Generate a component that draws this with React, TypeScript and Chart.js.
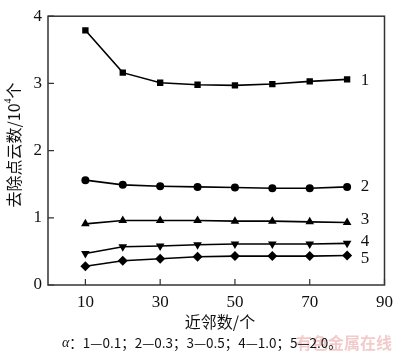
import React, { useEffect, useRef } from "react";
import { Chart, registerables } from "chart.js";
Chart.register(...registerables);

const neighbors = [10, 20, 30, 40, 50, 60, 70, 80];
const s1 = [3.79, 3.16, 3.01, 2.98, 2.97, 2.99, 3.03, 3.06];
const s2 = [1.56, 1.49, 1.47, 1.46, 1.45, 1.44, 1.44, 1.46];
const s3 = [0.91, 0.96, 0.96, 0.96, 0.95, 0.95, 0.94, 0.93];
const s4 = [0.47, 0.57, 0.58, 0.6, 0.61, 0.61, 0.61, 0.62];
const s5 = [0.28, 0.36, 0.39, 0.42, 0.43, 0.43, 0.43, 0.44];
const seriesNames = ["1", "2", "3", "4", "5"];
const seriesLabelY = [3.04, 1.46, 0.97, 0.64, 0.4];
const seriesLabelX = 84.8;
const xTicks = [10, 30, 50, 70, 90];
const yTicks = [0, 1, 2, 3, 4];
const yTitleMain = "去除点云数/10";
const yTitleSup = "4";
const yTitleEnd = "个";
const xTitle = "近邻数/个";
const captionAlpha = "α";
const captionRest = "：1—0.1；2—0.3；3—0.5；4—1.0；5—2.0。";
const watermark = "有色金属在线";

const SERIF = "'Liberation Serif', 'Times New Roman', 'Noto Sans CJK SC', serif";
const CJK = "'Noto Sans CJK SC', 'Liberation Serif', serif";

const decorPlugin = {
  id: "decor",
  afterDraw(chart: any) {
    const ctx = chart.ctx;
    const { left, right, top, bottom } = chart.chartArea;
    const xs = chart.scales.x;
    const ys = chart.scales.y;
    ctx.save();
    ctx.strokeStyle = "#333";
    ctx.lineWidth = 1.5;
    ctx.strokeRect(left, top, right - left, bottom - top);
    ctx.lineWidth = 1.2;
    ctx.beginPath();
    for (const t of xTicks) {
      const px = xs.getPixelForValue(t);
      ctx.moveTo(px, bottom);
      ctx.lineTo(px, bottom - 6);
    }
    for (const t of yTicks) {
      const py = ys.getPixelForValue(t);
      ctx.moveTo(left, py);
      ctx.lineTo(left + 6, py);
    }
    ctx.stroke();

    ctx.fillStyle = "#111";
    ctx.textAlign = "center";
    ctx.textBaseline = "middle";
    ctx.font = "17px " + SERIF;
    seriesNames.forEach((n, i) => {
      ctx.fillText(n, xs.getPixelForValue(seriesLabelX), ys.getPixelForValue(seriesLabelY[i]));
    });

    // y title
    ctx.save();
    ctx.translate(14, 145);
    ctx.rotate(-Math.PI / 2);
    ctx.font = "16px " + CJK;
    const w1 = ctx.measureText(yTitleMain).width;
    ctx.font = "10px " + SERIF;
    const w2 = ctx.measureText(yTitleSup).width;
    ctx.font = "16px " + CJK;
    const w3 = ctx.measureText(yTitleEnd).width;
    const total = w1 + w2 + w3;
    let x0 = -total / 2;
    ctx.textAlign = "left";
    ctx.fillText(yTitleMain, x0, 0);
    ctx.font = "10px " + SERIF;
    ctx.fillText(yTitleSup, x0 + w1, -6);
    ctx.font = "16px " + CJK;
    ctx.fillText(yTitleEnd, x0 + w1 + w2, 0);
    ctx.restore();

    // x title
    ctx.textAlign = "center";
    ctx.font = "16px " + CJK;
    ctx.fillText(xTitle, 220, 322);

    // watermark
    ctx.textAlign = "left";
    ctx.fillStyle = "rgba(232,150,150,0.5)";
    ctx.font = "bold 16px " + CJK;
    ctx.fillText(watermark, 296, 343);

    // caption
    ctx.fillStyle = "#111";
    ctx.font = "italic 14px " + SERIF;
    ctx.fillText(captionAlpha, 62, 343);
    const aw = ctx.measureText(captionAlpha).width;
    ctx.font = "13.5px " + CJK;
    ctx.fillText(captionRest, 62 + aw, 343);
    ctx.restore();
  },
};

export default function App() {
  const ref = useRef<HTMLCanvasElement | null>(null);
  useEffect(() => {
    document.body.style.margin = "0";
    const mk = (data: number[], style: any, rot = 0, r = 4) => ({
      data: neighbors.map((x, i) => ({ x, y: data[i] })),
      borderColor: "#000",
      backgroundColor: "#000",
      borderWidth: 1.6,
      pointStyle: style,
      pointRotation: rot,
      pointRadius: r,
      pointBorderWidth: 0,
      tension: 0,
    });
    const chart = new Chart(ref.current as HTMLCanvasElement, {
      type: "line",
      data: {
        datasets: [
          mk(s1, "rect", 0, 4.5),
          mk(s2, "circle", 0, 4),
          mk(s3, "triangle", 0, 5),
          mk(s4, "triangle", 180, 5),
          mk(s5, "rectRot", 0, 5),
        ],
      },
      options: {
        responsive: false,
        animation: false,
        devicePixelRatio: 1,
        layout: { padding: { left: 0, right: 8, top: 5, bottom: 0 } },
        plugins: { legend: { display: false }, tooltip: { enabled: false } },
        scales: {
          x: {
            type: "linear",
            min: 0,
            max: 90,
            afterBuildTicks: (s: any) => {
              s.ticks = xTicks.map((v) => ({ value: v }));
            },
            afterFit: (s: any) => {
              s.height = 70;
            },
            grid: { display: false, drawTicks: false },
            border: { display: false },
            ticks: { color: "#111", font: { family: SERIF, size: 17 }, padding: 7, maxRotation: 0 },
          },
          y: {
            type: "linear",
            min: 0,
            max: 4,
            afterBuildTicks: (s: any) => {
              s.ticks = yTicks.map((v) => ({ value: v }));
            },
            afterFit: (s: any) => {
              s.width = 48;
            },
            grid: { display: false, drawTicks: false },
            border: { display: false },
            ticks: { color: "#111", font: { family: SERIF, size: 17 }, padding: 6 },
          },
        },
      },
      plugins: [decorPlugin],
    } as any);
    return () => chart.destroy();
  }, []);
  return (
    <div style={{ position: "absolute", left: 0, top: 0, width: 400, height: 355, background: "#fff" }}>
      <canvas ref={ref} width={400} height={355} style={{ width: 400, height: 355 }} />
    </div>
  );
}
